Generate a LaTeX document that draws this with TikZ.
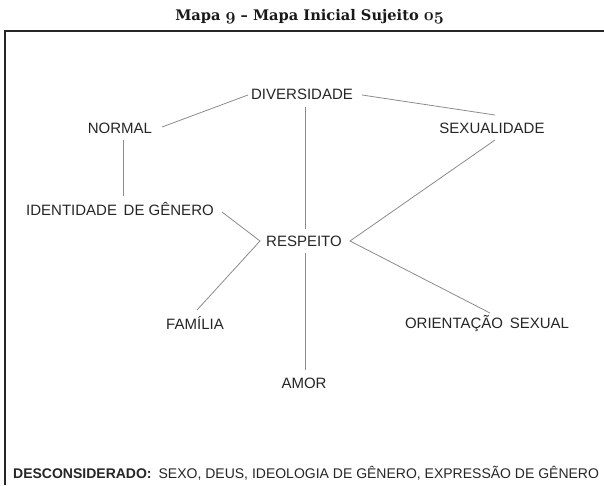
\documentclass[tikz,border=0pt]{standalone}
\usepackage{fontspec}
\newfontfamily\arialf{Liberation Sans}
\newfontfamily\titlef{DejaVu Serif}
\newcommand{\osn}[1]{{\boldmath$\mathnormal{#1}$}}
\usetikzlibrary{calc}
\tikzset{
  concept/.style={inner sep=0pt, font=\arialf\fontsize{15}{18}\selectfont, text=black!85},
  link/.style={draw=black!45, line width=0.8pt},
  frameline/.style={draw=black!85, line width=1.6pt}
}
\begin{document}
\begin{tikzpicture}[x=1pt,y=-1pt]
\useasboundingbox (0,0) rectangle (604,485);
\fill[white] (0,0) rectangle (604,485);
\node[anchor=base, inner sep=0pt, font=\titlef\bfseries\fontsize{14.6}{17}\selectfont, text=black!90] (title) at (309.5,20.5)
  {Mapa {\fontsize{19}{20}\selectfont\osn{9}} – Mapa Inicial Sujeito {\fontsize{19}{20}\selectfont\osn{05}}};
\coordinate (fr) at (5,31);
\coordinate (frr) at (604,31);
\coordinate (frb) at (5,485);
\draw[frameline] (frr) -- (fr) -- (frb);

\node[concept] (div) at (302,94) {DIVERSIDADE};
\node[concept] (normal) at (120,128) {NORMAL};
\node[concept] (sex) at (492,128) {SEXUALIDADE};
\node[concept] (ident) at (120,209) {IDENTIDADE\, DE GÊNERO};
\node[concept] (resp) at (304,241) {RESPEITO};
\node[concept] (fam) at (195,323) {FAMÍLIA};
\node[concept] (orient) at (487,323) {ORIENTAÇÃO\, SEXUAL};
\node[concept] (amor) at (304,383) {AMOR};

\draw[link] ($(normal)+(42,-1)$) -- ($(div)+(-54,1)$);
\draw[link] ($(div)+(60,1)$) -- ($(sex)+(3,-13)$);
\draw[link] ($(div)+(3,13)$) -- ($(resp)+(1,-12)$);
\draw[link] ($(normal)+(3,12)$) -- ($(ident)+(3,-13)$);
\draw[link] ($(ident)+(102,3)$) -- ($(resp)+(-44,0)$) -- ($(fam)+(2,-13)$);
\draw[link] ($(sex)+(3,12)$) -- ($(resp)+(46,0)$) -- ($(orient)+(3,-10)$);
\draw[link] ($(resp)+(1,12)$) -- ($(amor)+(1,-13)$);

\node[anchor=base west, inner sep=0pt, font=\arialf\fontsize{14}{17}\selectfont, text=black!85] (disc) at (13,478)
  {\textbf{DESCONSIDERADO:}\hspace{0.5em}SEXO, DEUS, IDEOLOGIA DE GÊNERO, EXPRESSÃO DE GÊNERO};
\end{tikzpicture}
\end{document}
